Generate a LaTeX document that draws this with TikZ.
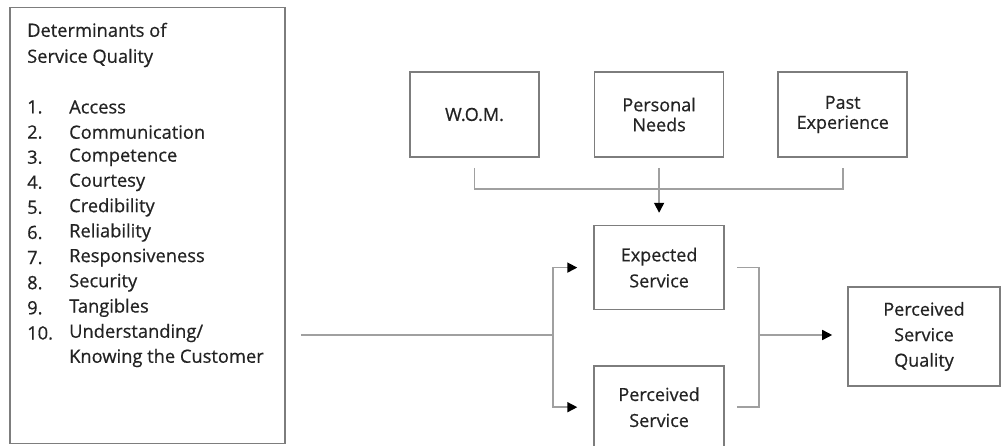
\documentclass[tikz,border=0pt]{standalone}
\usepackage{fontspec}
\setmainfont{Open Sans}[FakeBold=0.6]
\usetikzlibrary{arrows.meta,positioning,calc}

\definecolor{linegray}{RGB}{160,160,160}
\definecolor{boxgray}{RGB}{125,125,125}
\definecolor{textdark}{RGB}{35,35,35}

\begin{document}
\begin{tikzpicture}[x=1pt,y=-1pt,
  every node/.style={text=textdark},
  box/.style={draw=boxgray, line width=1.6pt, minimum width=129pt, minimum height=85pt,
    align=center, inner sep=0pt, font=\fontsize{18}{20}\selectfont},
  item/.style={anchor=west, inner sep=0pt, font=\fontsize{18.3}{25}\selectfont},
  conn/.style={draw=linegray, line width=1.6pt},
  arr/.style={conn, -{Triangle[length=10pt,width=10pt,black]}}]
\useasboundingbox (0,0) rectangle (1005,446);

% determinants
\node[draw=boxgray, line width=1.6pt, minimum width=275pt, minimum height=436pt] (det) at (147.5,225.5) {};
\node[item, align=left, font=\fontsize{18.3}{26}\selectfont] (title) at (27,45) {Determinants of\\Service Quality};
\foreach \i/\t in {1/Access,2/Communication,3/Competence,4/Courtesy,5/Credibility,
    6/Reliability,7/Responsiveness,8/Security,9/Tangibles} {
  \node[item] (num\i) at (27,{107+(\i-1)*25.1}) {\i.};
  \node[item] (lab\i) at (69,{107+(\i-1)*25.1}) {\t};
}
\node[item] (num10) at (27,333) {10.};
\node[item] (lab10) at (69,333) {Understanding/};
\node[item] (lab10b) at (69,358) {Knowing the Customer};

% expectation sources
\node[box] (wom) at (474.5,114.5) {W.O.M.};
\node[box, right=54pt of wom] (needs) {Personal\\Needs};
\node[box, right=53pt of needs] (past) {Past\\Experience};

% service
\node[box, font=\fontsize{18}{26}\selectfont, minimum width=130pt, minimum height=84pt,
  below=67pt of needs] (exp) {Expected\\Service};
\node[box, font=\fontsize{18}{26}\selectfont, minimum width=130pt, minimum height=82pt,
  below=55pt of exp] (perc) {Perceived\\Service};
\node[box, font=\fontsize{18}{25.5}\selectfont, minimum width=152pt, minimum height=99pt]
  (psq) at (924,336.5) {Perceived\\Service\\Quality};

\coordinate (join) at ($(needs.south)+(0,31)$);
\coordinate (split) at (553,335);
\coordinate (merge) at (759,335);

\draw[conn, shorten <=10pt, shorten >=10pt] (wom.south) |- (join) -| (past.south);
\draw[arr, shorten <=10pt, shorten >=12pt] (needs.south) -- (exp.north);

\draw[conn] ([xshift=15pt]det.east |- split) -- (split);
\draw[arr, shorten >=16pt] (split) |- (exp.west);
\draw[arr, shorten >=16pt] (split) |- (perc.west);

\draw[conn, shorten <=12pt] (exp.east) -| (merge);
\draw[conn, shorten <=12pt] (perc.east) -| (merge);
\draw[arr, shorten >=15pt] (merge) -- (merge -| psq.west);
\end{tikzpicture}
\end{document}
